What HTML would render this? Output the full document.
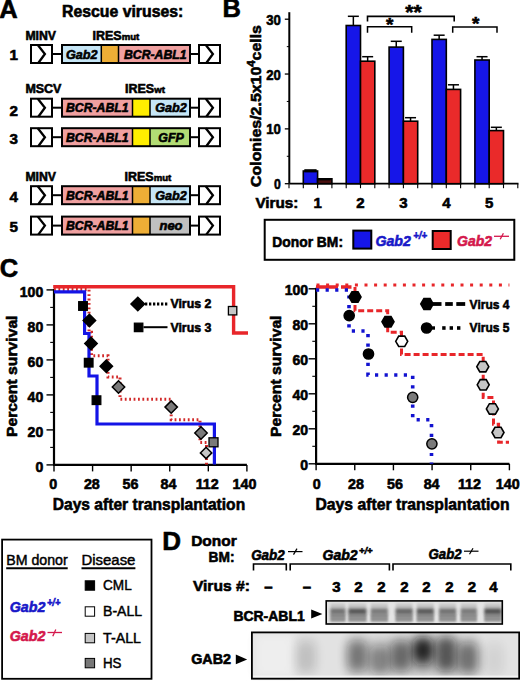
<!DOCTYPE html>
<html><head><meta charset="utf-8"><style>
html,body{margin:0;padding:0;background:#fff;width:520px;height:681px;overflow:hidden}
svg{display:block}
text{font-family:"Liberation Sans",sans-serif}
</style></head><body>
<svg width="520" height="681" viewBox="0 0 520 681">
<rect width="520" height="681" fill="#fff"/>
<text x="-0.8" y="18" font-size="25.5" font-family="Liberation Sans" font-weight="bold" fill="#000" text-anchor="start" stroke="#000" stroke-width="0.6" >A</text>
<text x="62" y="16.9" font-size="15.6" font-family="Liberation Sans" font-weight="bold" fill="#000" text-anchor="start" textLength="121.3" lengthAdjust="spacingAndGlyphs" stroke="#000" stroke-width="0.6" >Rescue viruses:</text>
<text x="9.6" y="59.6" font-size="15.2" font-family="Liberation Sans" font-weight="bold" fill="#000" text-anchor="start" stroke="#000" stroke-width="0.6" >1</text>
<rect x="31" y="45" width="21" height="18" fill="#fff" stroke="#000" stroke-width="2"/>
<polyline points="37.8,45 44.9,54 38.3,63" fill="none" stroke="#000" stroke-width="2.3"/>
<rect x="199" y="45" width="21" height="18" fill="#fff" stroke="#000" stroke-width="2"/>
<polyline points="205.8,45 212.9,54 206.3,63" fill="none" stroke="#000" stroke-width="2.3"/>
<line x1="53" y1="54" x2="61" y2="54" stroke="#000" stroke-width="2"/>
<line x1="191" y1="54" x2="198" y2="54" stroke="#000" stroke-width="2"/>
<rect x="61" y="45" width="40.3" height="18" fill="#c6e6f6"/>
<rect x="101.3" y="45" width="17.200000000000003" height="18" fill="#eeae36"/>
<rect x="118.5" y="45" width="72.5" height="18" fill="#f0a0a0"/>
<line x1="101.3" y1="45" x2="101.3" y2="63" stroke="#000" stroke-width="1.5"/>
<line x1="118.5" y1="45" x2="118.5" y2="63" stroke="#000" stroke-width="1.5"/>
<rect x="62" y="45" width="128" height="18" fill="none" stroke="#000" stroke-width="2"/>
<text x="81.65" y="58.5" font-size="12.6" font-family="Liberation Sans" font-weight="bold" font-style="italic" fill="#000" text-anchor="middle" textLength="31.5" lengthAdjust="spacingAndGlyphs" stroke="#000" stroke-width="0.6" >Gab2</text>
<text x="155.25" y="58.5" font-size="12.6" font-family="Liberation Sans" font-weight="bold" font-style="italic" fill="#000" text-anchor="middle" textLength="62.5" lengthAdjust="spacingAndGlyphs" stroke="#000" stroke-width="0.6" >BCR-ABL1</text>
<text x="9.6" y="115.6" font-size="15.2" font-family="Liberation Sans" font-weight="bold" fill="#000" text-anchor="start" stroke="#000" stroke-width="0.6" >2</text>
<rect x="31" y="98.7" width="21" height="18" fill="#fff" stroke="#000" stroke-width="2"/>
<polyline points="37.8,98.7 44.9,107.7 38.3,116.7" fill="none" stroke="#000" stroke-width="2.3"/>
<rect x="199" y="98.7" width="21" height="18" fill="#fff" stroke="#000" stroke-width="2"/>
<polyline points="205.8,98.7 212.9,107.7 206.3,116.7" fill="none" stroke="#000" stroke-width="2.3"/>
<line x1="53" y1="107.7" x2="61" y2="107.7" stroke="#000" stroke-width="2"/>
<line x1="191" y1="107.7" x2="198" y2="107.7" stroke="#000" stroke-width="2"/>
<rect x="61" y="98.7" width="71.5" height="18" fill="#f0a0a0"/>
<rect x="132.5" y="98.7" width="17.5" height="18" fill="#ffee00"/>
<rect x="150" y="98.7" width="41" height="18" fill="#c6e6f6"/>
<line x1="132.5" y1="98.7" x2="132.5" y2="116.7" stroke="#000" stroke-width="1.5"/>
<line x1="150" y1="98.7" x2="150" y2="116.7" stroke="#000" stroke-width="1.5"/>
<rect x="62" y="98.7" width="128" height="18" fill="none" stroke="#000" stroke-width="2"/>
<text x="97.25" y="112.2" font-size="12.6" font-family="Liberation Sans" font-weight="bold" font-style="italic" fill="#000" text-anchor="middle" textLength="62.5" lengthAdjust="spacingAndGlyphs" stroke="#000" stroke-width="0.6" >BCR-ABL1</text>
<text x="171.0" y="112.2" font-size="12.6" font-family="Liberation Sans" font-weight="bold" font-style="italic" fill="#000" text-anchor="middle" textLength="31.5" lengthAdjust="spacingAndGlyphs" stroke="#000" stroke-width="0.6" >Gab2</text>
<text x="9.6" y="144.2" font-size="15.2" font-family="Liberation Sans" font-weight="bold" fill="#000" text-anchor="start" stroke="#000" stroke-width="0.6" >3</text>
<rect x="31" y="128.2" width="21" height="18" fill="#fff" stroke="#000" stroke-width="2"/>
<polyline points="37.8,128.2 44.9,137.2 38.3,146.2" fill="none" stroke="#000" stroke-width="2.3"/>
<rect x="199" y="128.2" width="21" height="18" fill="#fff" stroke="#000" stroke-width="2"/>
<polyline points="205.8,128.2 212.9,137.2 206.3,146.2" fill="none" stroke="#000" stroke-width="2.3"/>
<line x1="53" y1="137.2" x2="61" y2="137.2" stroke="#000" stroke-width="2"/>
<line x1="191" y1="137.2" x2="198" y2="137.2" stroke="#000" stroke-width="2"/>
<rect x="61" y="128.2" width="71.5" height="18" fill="#f0a0a0"/>
<rect x="132.5" y="128.2" width="17.5" height="18" fill="#ffee00"/>
<rect x="150" y="128.2" width="41" height="18" fill="#b2dc74"/>
<line x1="132.5" y1="128.2" x2="132.5" y2="146.2" stroke="#000" stroke-width="1.5"/>
<line x1="150" y1="128.2" x2="150" y2="146.2" stroke="#000" stroke-width="1.5"/>
<rect x="62" y="128.2" width="128" height="18" fill="none" stroke="#000" stroke-width="2"/>
<text x="97.25" y="141.7" font-size="12.6" font-family="Liberation Sans" font-weight="bold" font-style="italic" fill="#000" text-anchor="middle" textLength="62.5" lengthAdjust="spacingAndGlyphs" stroke="#000" stroke-width="0.6" >BCR-ABL1</text>
<text x="171.0" y="141.7" font-size="12.6" font-family="Liberation Sans" font-weight="bold" font-style="italic" fill="#000" text-anchor="middle" textLength="25.5" lengthAdjust="spacingAndGlyphs" stroke="#000" stroke-width="0.6" >GFP</text>
<text x="9.6" y="201.9" font-size="15.2" font-family="Liberation Sans" font-weight="bold" fill="#000" text-anchor="start" stroke="#000" stroke-width="0.6" >4</text>
<rect x="31" y="186.2" width="21" height="18" fill="#fff" stroke="#000" stroke-width="2"/>
<polyline points="37.8,186.2 44.9,195.2 38.3,204.2" fill="none" stroke="#000" stroke-width="2.3"/>
<rect x="199" y="186.2" width="21" height="18" fill="#fff" stroke="#000" stroke-width="2"/>
<polyline points="205.8,186.2 212.9,195.2 206.3,204.2" fill="none" stroke="#000" stroke-width="2.3"/>
<line x1="53" y1="195.2" x2="61" y2="195.2" stroke="#000" stroke-width="2"/>
<line x1="191" y1="195.2" x2="198" y2="195.2" stroke="#000" stroke-width="2"/>
<rect x="61" y="186.2" width="71.5" height="18" fill="#f0a0a0"/>
<rect x="132.5" y="186.2" width="17.5" height="18" fill="#eeae36"/>
<rect x="150" y="186.2" width="41" height="18" fill="#c6e6f6"/>
<line x1="132.5" y1="186.2" x2="132.5" y2="204.2" stroke="#000" stroke-width="1.5"/>
<line x1="150" y1="186.2" x2="150" y2="204.2" stroke="#000" stroke-width="1.5"/>
<rect x="62" y="186.2" width="128" height="18" fill="none" stroke="#000" stroke-width="2"/>
<text x="97.25" y="199.7" font-size="12.6" font-family="Liberation Sans" font-weight="bold" font-style="italic" fill="#000" text-anchor="middle" textLength="62.5" lengthAdjust="spacingAndGlyphs" stroke="#000" stroke-width="0.6" >BCR-ABL1</text>
<text x="171.0" y="199.7" font-size="12.6" font-family="Liberation Sans" font-weight="bold" font-style="italic" fill="#000" text-anchor="middle" textLength="31.5" lengthAdjust="spacingAndGlyphs" stroke="#000" stroke-width="0.6" >Gab2</text>
<text x="9.6" y="231.9" font-size="15.2" font-family="Liberation Sans" font-weight="bold" fill="#000" text-anchor="start" stroke="#000" stroke-width="0.6" >5</text>
<rect x="31" y="216.6" width="21" height="18" fill="#fff" stroke="#000" stroke-width="2"/>
<polyline points="37.8,216.6 44.9,225.6 38.3,234.6" fill="none" stroke="#000" stroke-width="2.3"/>
<rect x="199" y="216.6" width="21" height="18" fill="#fff" stroke="#000" stroke-width="2"/>
<polyline points="205.8,216.6 212.9,225.6 206.3,234.6" fill="none" stroke="#000" stroke-width="2.3"/>
<line x1="53" y1="225.6" x2="61" y2="225.6" stroke="#000" stroke-width="2"/>
<line x1="191" y1="225.6" x2="198" y2="225.6" stroke="#000" stroke-width="2"/>
<rect x="61" y="216.6" width="71.5" height="18" fill="#f0a0a0"/>
<rect x="132.5" y="216.6" width="17.5" height="18" fill="#eeae36"/>
<rect x="150" y="216.6" width="41" height="18" fill="#c0c0c0"/>
<line x1="132.5" y1="216.6" x2="132.5" y2="234.6" stroke="#000" stroke-width="1.5"/>
<line x1="150" y1="216.6" x2="150" y2="234.6" stroke="#000" stroke-width="1.5"/>
<rect x="62" y="216.6" width="128" height="18" fill="none" stroke="#000" stroke-width="2"/>
<text x="97.25" y="230.1" font-size="12.6" font-family="Liberation Sans" font-weight="bold" font-style="italic" fill="#000" text-anchor="middle" textLength="62.5" lengthAdjust="spacingAndGlyphs" stroke="#000" stroke-width="0.6" >BCR-ABL1</text>
<text x="171.0" y="230.1" font-size="12.6" font-family="Liberation Sans" font-weight="bold" font-style="italic" fill="#000" text-anchor="middle" textLength="23" lengthAdjust="spacingAndGlyphs" stroke="#000" stroke-width="0.6" >neo</text>
<text x="25.4" y="39.7" font-size="12.5" font-family="Liberation Sans" font-weight="bold" fill="#000" text-anchor="start" textLength="30.6" lengthAdjust="spacingAndGlyphs" stroke="#000" stroke-width="0.6" >MINV</text>
<text x="25.4" y="93" font-size="12.5" font-family="Liberation Sans" font-weight="bold" fill="#000" text-anchor="start" textLength="36" lengthAdjust="spacingAndGlyphs" stroke="#000" stroke-width="0.6" >MSCV</text>
<text x="25.4" y="180.7" font-size="12.5" font-family="Liberation Sans" font-weight="bold" fill="#000" text-anchor="start" textLength="30.6" lengthAdjust="spacingAndGlyphs" stroke="#000" stroke-width="0.6" >MINV</text>
<text x="92.5" y="40" font-size="12.5" font-family="Liberation Sans" font-weight="bold" stroke="#000" stroke-width="0.6">IRES<tspan font-size="9.6">mut</tspan></text>
<text x="125" y="93" font-size="12.5" font-family="Liberation Sans" font-weight="bold" stroke="#000" stroke-width="0.6">IRES<tspan font-size="9.6">wt</tspan></text>
<text x="124.5" y="180.5" font-size="12.5" font-family="Liberation Sans" font-weight="bold" stroke="#000" stroke-width="0.6">IRES<tspan font-size="9.6">mut</tspan></text>
<text x="222.6" y="17" font-size="25.5" font-family="Liberation Sans" font-weight="bold" fill="#000" text-anchor="start" stroke="#000" stroke-width="0.6" >B</text>
<line x1="289.3" y1="12.2" x2="289.3" y2="183.7" stroke="#000" stroke-width="2"/>
<line x1="284.8" y1="183.7" x2="289.3" y2="183.7" stroke="#000" stroke-width="1.3"/>
<text x="274.09999999999997" y="189.29999999999998" font-size="15" font-family="Liberation Sans" font-weight="bold" fill="#000" text-anchor="start" textLength="6.8" lengthAdjust="spacingAndGlyphs" stroke="#000" stroke-width="0.6" >0</text>
<line x1="284.8" y1="128.87" x2="289.3" y2="128.87" stroke="#000" stroke-width="1.3"/>
<text x="266.29999999999995" y="134.47" font-size="15" font-family="Liberation Sans" font-weight="bold" fill="#000" text-anchor="start" textLength="14.6" lengthAdjust="spacingAndGlyphs" stroke="#000" stroke-width="0.6" >10</text>
<line x1="284.8" y1="74.03999999999999" x2="289.3" y2="74.03999999999999" stroke="#000" stroke-width="1.3"/>
<text x="266.29999999999995" y="79.63999999999999" font-size="15" font-family="Liberation Sans" font-weight="bold" fill="#000" text-anchor="start" textLength="14.6" lengthAdjust="spacingAndGlyphs" stroke="#000" stroke-width="0.6" >20</text>
<line x1="284.8" y1="19.210000000000008" x2="289.3" y2="19.210000000000008" stroke="#000" stroke-width="1.3"/>
<text x="266.29999999999995" y="24.81000000000001" font-size="15" font-family="Liberation Sans" font-weight="bold" fill="#000" text-anchor="start" textLength="14.6" lengthAdjust="spacingAndGlyphs" stroke="#000" stroke-width="0.6" >30</text>
<line x1="286.8" y1="156.285" x2="289.3" y2="156.285" stroke="#000" stroke-width="1"/>
<line x1="286.8" y1="101.455" x2="289.3" y2="101.455" stroke="#000" stroke-width="1"/>
<line x1="286.8" y1="46.625" x2="289.3" y2="46.625" stroke="#000" stroke-width="1"/>
<line x1="289.3" y1="183.7" x2="518.5" y2="183.7" stroke="#000" stroke-width="1.8"/>
<line x1="289.0" y1="183.7" x2="289.0" y2="188.2" stroke="#000" stroke-width="1.1"/>
<line x1="303.3" y1="183.7" x2="303.3" y2="188.2" stroke="#000" stroke-width="1.1"/>
<line x1="317.6" y1="183.7" x2="317.6" y2="188.2" stroke="#000" stroke-width="1.1"/>
<line x1="331.9" y1="183.7" x2="331.9" y2="188.2" stroke="#000" stroke-width="1.1"/>
<line x1="346.2" y1="183.7" x2="346.2" y2="188.2" stroke="#000" stroke-width="1.1"/>
<line x1="360.5" y1="183.7" x2="360.5" y2="188.2" stroke="#000" stroke-width="1.1"/>
<line x1="374.8" y1="183.7" x2="374.8" y2="188.2" stroke="#000" stroke-width="1.1"/>
<line x1="389.1" y1="183.7" x2="389.1" y2="188.2" stroke="#000" stroke-width="1.1"/>
<line x1="403.4" y1="183.7" x2="403.4" y2="188.2" stroke="#000" stroke-width="1.1"/>
<line x1="417.70000000000005" y1="183.7" x2="417.70000000000005" y2="188.2" stroke="#000" stroke-width="1.1"/>
<line x1="432.0" y1="183.7" x2="432.0" y2="188.2" stroke="#000" stroke-width="1.1"/>
<line x1="446.3" y1="183.7" x2="446.3" y2="188.2" stroke="#000" stroke-width="1.1"/>
<line x1="460.6" y1="183.7" x2="460.6" y2="188.2" stroke="#000" stroke-width="1.1"/>
<line x1="474.9" y1="183.7" x2="474.9" y2="188.2" stroke="#000" stroke-width="1.1"/>
<line x1="489.20000000000005" y1="183.7" x2="489.20000000000005" y2="188.2" stroke="#000" stroke-width="1.1"/>
<line x1="503.5" y1="183.7" x2="503.5" y2="188.2" stroke="#000" stroke-width="1.1"/>
<line x1="517.8" y1="183.7" x2="517.8" y2="188.2" stroke="#000" stroke-width="1.1"/>
<rect x="303.3" y="171" width="14.3" height="12.699999999999989" fill="#1616e8" stroke="#000" stroke-width="1.6"/>
<rect x="304.3" y="169.2" width="12.3" height="3.2" fill="#000"/>
<rect x="317.6" y="178.8" width="14.3" height="4.899999999999977" fill="#4a1010" stroke="#000" stroke-width="1.6"/>
<rect x="317.6" y="178.2" width="13" height="2.2" fill="#000"/>
<text x="317.6" y="208" font-size="15" font-family="Liberation Sans" font-weight="bold" fill="#000" text-anchor="middle" stroke="#000" stroke-width="0.6" >1</text>
<line x1="353.34999999999997" y1="16.3" x2="353.34999999999997" y2="25.5" stroke="#000" stroke-width="1.5"/>
<line x1="347.84999999999997" y1="16.3" x2="358.84999999999997" y2="16.3" stroke="#000" stroke-width="1.5"/>
<rect x="346.2" y="25.5" width="14.3" height="158.2" fill="#1616e8" stroke="#000" stroke-width="1.6"/>
<line x1="367.65" y1="56.7" x2="367.65" y2="61.2" stroke="#000" stroke-width="1.5"/>
<line x1="362.15" y1="56.7" x2="373.15" y2="56.7" stroke="#000" stroke-width="1.5"/>
<rect x="360.5" y="61.2" width="14.3" height="122.49999999999999" fill="#ea2a2a" stroke="#000" stroke-width="1.6"/>
<text x="360.5" y="208" font-size="15" font-family="Liberation Sans" font-weight="bold" fill="#000" text-anchor="middle" stroke="#000" stroke-width="0.6" >2</text>
<line x1="396.25" y1="41.3" x2="396.25" y2="47.1" stroke="#000" stroke-width="1.5"/>
<line x1="390.75" y1="41.3" x2="401.75" y2="41.3" stroke="#000" stroke-width="1.5"/>
<rect x="389.1" y="47.1" width="14.3" height="136.6" fill="#1616e8" stroke="#000" stroke-width="1.6"/>
<line x1="410.55" y1="117.7" x2="410.55" y2="121.2" stroke="#000" stroke-width="1.5"/>
<line x1="405.05" y1="117.7" x2="416.05" y2="117.7" stroke="#000" stroke-width="1.5"/>
<rect x="403.40000000000003" y="121.2" width="14.3" height="62.499999999999986" fill="#ea2a2a" stroke="#000" stroke-width="1.6"/>
<text x="403.40000000000003" y="208" font-size="15" font-family="Liberation Sans" font-weight="bold" fill="#000" text-anchor="middle" stroke="#000" stroke-width="0.6" >3</text>
<line x1="439.15" y1="35.2" x2="439.15" y2="39.4" stroke="#000" stroke-width="1.5"/>
<line x1="433.65" y1="35.2" x2="444.65" y2="35.2" stroke="#000" stroke-width="1.5"/>
<rect x="432.0" y="39.4" width="14.3" height="144.29999999999998" fill="#1616e8" stroke="#000" stroke-width="1.6"/>
<line x1="453.45" y1="84.8" x2="453.45" y2="89.4" stroke="#000" stroke-width="1.5"/>
<line x1="447.95" y1="84.8" x2="458.95" y2="84.8" stroke="#000" stroke-width="1.5"/>
<rect x="446.3" y="89.4" width="14.3" height="94.29999999999998" fill="#ea2a2a" stroke="#000" stroke-width="1.6"/>
<text x="446.3" y="208" font-size="15" font-family="Liberation Sans" font-weight="bold" fill="#000" text-anchor="middle" stroke="#000" stroke-width="0.6" >4</text>
<line x1="482.04999999999995" y1="56.7" x2="482.04999999999995" y2="60" stroke="#000" stroke-width="1.5"/>
<line x1="476.54999999999995" y1="56.7" x2="487.54999999999995" y2="56.7" stroke="#000" stroke-width="1.5"/>
<rect x="474.9" y="60" width="14.3" height="123.69999999999999" fill="#1616e8" stroke="#000" stroke-width="1.6"/>
<line x1="496.34999999999997" y1="127.3" x2="496.34999999999997" y2="130.6" stroke="#000" stroke-width="1.5"/>
<line x1="490.84999999999997" y1="127.3" x2="501.84999999999997" y2="127.3" stroke="#000" stroke-width="1.5"/>
<rect x="489.2" y="130.6" width="14.3" height="53.099999999999994" fill="#ea2a2a" stroke="#000" stroke-width="1.6"/>
<text x="489.2" y="208" font-size="15" font-family="Liberation Sans" font-weight="bold" fill="#000" text-anchor="middle" stroke="#000" stroke-width="0.6" >5</text>
<polyline points="367.5,21.5 367.5,16.4 454.2,16.4 454.2,21.5" fill="none" stroke="#000" stroke-width="1.6"/>
<polyline points="367.5,32.7 367.5,26.8 411.7,26.8 411.7,32.7" fill="none" stroke="#000" stroke-width="1.5"/>
<polyline points="452.7,32.7 452.7,27 497,27 497,32.7" fill="none" stroke="#000" stroke-width="1.5"/>
<text x="389.6" y="30.5" font-size="19" font-family="Liberation Sans" font-weight="bold" fill="#000" text-anchor="middle" stroke="#000" stroke-width="0.6" >*</text>
<text x="475.8" y="30" font-size="19" font-family="Liberation Sans" font-weight="bold" fill="#000" text-anchor="middle" stroke="#000" stroke-width="0.6" >*</text>
<text x="413.4" y="19.2" font-size="21" font-family="Liberation Sans" font-weight="bold" fill="#000" text-anchor="middle" stroke="#000" stroke-width="0.6" >**</text>
<text transform="translate(260.8,187) rotate(-90)" font-size="15.5" font-family="Liberation Sans" font-weight="bold" stroke="#000" stroke-width="0.6" textLength="162" lengthAdjust="spacingAndGlyphs">Colonies/2.5x10<tspan font-size="11" dy="-5.5">4</tspan><tspan dy="5.5">cells</tspan></text>
<text x="255.4" y="208" font-size="15" font-family="Liberation Sans" font-weight="bold" fill="#000" text-anchor="start" textLength="43" lengthAdjust="spacingAndGlyphs" stroke="#000" stroke-width="0.6" >Virus:</text>
<rect x="264.7" y="219.8" width="249.6" height="40" fill="#fff" stroke="#000" stroke-width="2"/>
<text x="272.3" y="246.5" font-size="14.5" font-family="Liberation Sans" font-weight="bold" fill="#000" text-anchor="start" textLength="70.7" lengthAdjust="spacingAndGlyphs" stroke="#000" stroke-width="0.6" >Donor BM:</text>
<rect x="353.3" y="230.6" width="18" height="18" fill="#1616e8" stroke="#000" stroke-width="2"/>
<rect x="432.7" y="231" width="18" height="18" fill="#ea2a2a" stroke="#000" stroke-width="2"/>
<text x="375.4" y="245.8" font-size="15" font-family="Liberation Sans" font-weight="bold" font-style="italic" fill="#1818c8" text-anchor="start" textLength="35.4" lengthAdjust="spacingAndGlyphs" stroke="#1818c8" stroke-width="0.6" >Gab2</text>
<text x="413.3" y="239.4" font-size="10" font-family="Liberation Sans" font-weight="bold" font-style="italic" fill="#1818c8" text-anchor="start" textLength="13.7" lengthAdjust="spacingAndGlyphs" stroke="#1818c8" stroke-width="0.6" >+/+</text>
<text x="457" y="245.8" font-size="15" font-family="Liberation Sans" font-weight="bold" font-style="italic" fill="#d4184c" text-anchor="start" textLength="35" lengthAdjust="spacingAndGlyphs" stroke="#d4184c" stroke-width="0.6" >Gab2</text>
<line x1="494" y1="236.3" x2="509" y2="236.3" stroke="#d4184c" stroke-width="1.3"/>
<line x1="503.4" y1="233.2" x2="500.2" y2="239.3" stroke="#d4184c" stroke-width="1.3"/>
<text x="-0.3" y="277" font-size="25.5" font-family="Liberation Sans" font-weight="bold" fill="#000" text-anchor="start" stroke="#000" stroke-width="0.6" >C</text>
<line x1="54.0" y1="288.9" x2="54.0" y2="464.9" stroke="#000" stroke-width="2.2"/>
<line x1="46.5" y1="464.9" x2="54.0" y2="464.9" stroke="#000" stroke-width="1.4"/>
<text x="43.2" y="471.5" font-size="14" font-family="Liberation Sans" font-weight="bold" fill="#000" text-anchor="end" stroke="#000" stroke-width="0.6" >0</text>
<line x1="50.2" y1="447.4" x2="54.0" y2="447.4" stroke="#000" stroke-width="1.1"/>
<line x1="46.5" y1="429.9" x2="54.0" y2="429.9" stroke="#000" stroke-width="1.4"/>
<text x="43.2" y="436.5" font-size="14" font-family="Liberation Sans" font-weight="bold" fill="#000" text-anchor="end" stroke="#000" stroke-width="0.6" >20</text>
<line x1="50.2" y1="412.4" x2="54.0" y2="412.4" stroke="#000" stroke-width="1.1"/>
<line x1="46.5" y1="394.9" x2="54.0" y2="394.9" stroke="#000" stroke-width="1.4"/>
<text x="43.2" y="401.5" font-size="14" font-family="Liberation Sans" font-weight="bold" fill="#000" text-anchor="end" stroke="#000" stroke-width="0.6" >40</text>
<line x1="50.2" y1="377.4" x2="54.0" y2="377.4" stroke="#000" stroke-width="1.1"/>
<line x1="46.5" y1="359.9" x2="54.0" y2="359.9" stroke="#000" stroke-width="1.4"/>
<text x="43.2" y="366.5" font-size="14" font-family="Liberation Sans" font-weight="bold" fill="#000" text-anchor="end" stroke="#000" stroke-width="0.6" >60</text>
<line x1="50.2" y1="342.4" x2="54.0" y2="342.4" stroke="#000" stroke-width="1.1"/>
<line x1="46.5" y1="324.9" x2="54.0" y2="324.9" stroke="#000" stroke-width="1.4"/>
<text x="43.2" y="331.5" font-size="14" font-family="Liberation Sans" font-weight="bold" fill="#000" text-anchor="end" stroke="#000" stroke-width="0.6" >80</text>
<line x1="50.2" y1="307.4" x2="54.0" y2="307.4" stroke="#000" stroke-width="1.1"/>
<line x1="46.5" y1="289.9" x2="54.0" y2="289.9" stroke="#000" stroke-width="1.4"/>
<text x="43.2" y="296.5" font-size="14" font-family="Liberation Sans" font-weight="bold" fill="#000" text-anchor="end" stroke="#000" stroke-width="0.6" >100</text>
<line x1="53.0" y1="464.9" x2="246.9" y2="464.9" stroke="#000" stroke-width="2.2"/>
<line x1="54.0" y1="464.9" x2="54.0" y2="471.4" stroke="#000" stroke-width="1.4"/>
<text x="53.3" y="488.8" font-size="14.3" font-family="Liberation Sans" font-weight="bold" fill="#000" text-anchor="middle" stroke="#000" stroke-width="0.6" >0</text>
<line x1="92.58" y1="464.9" x2="92.58" y2="471.4" stroke="#000" stroke-width="1.4"/>
<text x="91.88" y="488.8" font-size="14.3" font-family="Liberation Sans" font-weight="bold" fill="#000" text-anchor="middle" stroke="#000" stroke-width="0.6" >28</text>
<line x1="131.16" y1="464.9" x2="131.16" y2="471.4" stroke="#000" stroke-width="1.4"/>
<text x="130.56" y="488.8" font-size="14.3" font-family="Liberation Sans" font-weight="bold" fill="#000" text-anchor="middle" stroke="#000" stroke-width="0.6" >56</text>
<line x1="169.74" y1="464.9" x2="169.74" y2="471.4" stroke="#000" stroke-width="1.4"/>
<text x="168.54000000000002" y="488.8" font-size="14.3" font-family="Liberation Sans" font-weight="bold" fill="#000" text-anchor="middle" stroke="#000" stroke-width="0.6" >84</text>
<line x1="208.32" y1="464.9" x2="208.32" y2="471.4" stroke="#000" stroke-width="1.4"/>
<text x="207.22" y="488.8" font-size="14.3" font-family="Liberation Sans" font-weight="bold" fill="#000" text-anchor="middle" stroke="#000" stroke-width="0.6" >112</text>
<line x1="246.9" y1="464.9" x2="246.9" y2="471.4" stroke="#000" stroke-width="1.4"/>
<text x="244.5" y="488.8" font-size="14.3" font-family="Liberation Sans" font-weight="bold" fill="#000" text-anchor="middle" stroke="#000" stroke-width="0.6" >140</text>
<text transform="translate(17.2,437) rotate(-90)" font-size="15.3" font-family="Liberation Sans" font-weight="bold" stroke="#000" stroke-width="0.6" textLength="121.5" lengthAdjust="spacingAndGlyphs">Percent survival</text>
<text x="52.7" y="509.8" font-size="16.6" font-family="Liberation Sans" font-weight="bold" fill="#000" text-anchor="start" textLength="192.5" lengthAdjust="spacingAndGlyphs" stroke="#000" stroke-width="0.6" >Days after transplantation</text>
<line x1="316.1" y1="287.8" x2="316.1" y2="463.8" stroke="#000" stroke-width="2.2"/>
<line x1="308.6" y1="463.8" x2="316.1" y2="463.8" stroke="#000" stroke-width="1.4"/>
<text x="308" y="470.40000000000003" font-size="14" font-family="Liberation Sans" font-weight="bold" fill="#000" text-anchor="end" stroke="#000" stroke-width="0.6" >0</text>
<line x1="312.3" y1="446.3" x2="316.1" y2="446.3" stroke="#000" stroke-width="1.1"/>
<line x1="308.6" y1="428.8" x2="316.1" y2="428.8" stroke="#000" stroke-width="1.4"/>
<text x="308" y="435.40000000000003" font-size="14" font-family="Liberation Sans" font-weight="bold" fill="#000" text-anchor="end" stroke="#000" stroke-width="0.6" >20</text>
<line x1="312.3" y1="411.3" x2="316.1" y2="411.3" stroke="#000" stroke-width="1.1"/>
<line x1="308.6" y1="393.8" x2="316.1" y2="393.8" stroke="#000" stroke-width="1.4"/>
<text x="308" y="400.40000000000003" font-size="14" font-family="Liberation Sans" font-weight="bold" fill="#000" text-anchor="end" stroke="#000" stroke-width="0.6" >40</text>
<line x1="312.3" y1="376.3" x2="316.1" y2="376.3" stroke="#000" stroke-width="1.1"/>
<line x1="308.6" y1="358.8" x2="316.1" y2="358.8" stroke="#000" stroke-width="1.4"/>
<text x="308" y="365.40000000000003" font-size="14" font-family="Liberation Sans" font-weight="bold" fill="#000" text-anchor="end" stroke="#000" stroke-width="0.6" >60</text>
<line x1="312.3" y1="341.3" x2="316.1" y2="341.3" stroke="#000" stroke-width="1.1"/>
<line x1="308.6" y1="323.8" x2="316.1" y2="323.8" stroke="#000" stroke-width="1.4"/>
<text x="308" y="330.40000000000003" font-size="14" font-family="Liberation Sans" font-weight="bold" fill="#000" text-anchor="end" stroke="#000" stroke-width="0.6" >80</text>
<line x1="312.3" y1="306.3" x2="316.1" y2="306.3" stroke="#000" stroke-width="1.1"/>
<line x1="308.6" y1="288.8" x2="316.1" y2="288.8" stroke="#000" stroke-width="1.4"/>
<text x="308" y="295.40000000000003" font-size="14" font-family="Liberation Sans" font-weight="bold" fill="#000" text-anchor="end" stroke="#000" stroke-width="0.6" >100</text>
<line x1="315.1" y1="463.8" x2="509.4" y2="463.8" stroke="#000" stroke-width="2.2"/>
<line x1="316.1" y1="463.8" x2="316.1" y2="470.3" stroke="#000" stroke-width="1.4"/>
<text x="316.70000000000005" y="488.8" font-size="14.3" font-family="Liberation Sans" font-weight="bold" fill="#000" text-anchor="middle" stroke="#000" stroke-width="0.6" >0</text>
<line x1="354.76" y1="463.8" x2="354.76" y2="470.3" stroke="#000" stroke-width="1.4"/>
<text x="355.96" y="488.8" font-size="14.3" font-family="Liberation Sans" font-weight="bold" fill="#000" text-anchor="middle" stroke="#000" stroke-width="0.6" >28</text>
<line x1="393.42" y1="463.8" x2="393.42" y2="470.3" stroke="#000" stroke-width="1.4"/>
<text x="395.02000000000004" y="488.8" font-size="14.3" font-family="Liberation Sans" font-weight="bold" fill="#000" text-anchor="middle" stroke="#000" stroke-width="0.6" >56</text>
<line x1="432.08" y1="463.8" x2="432.08" y2="470.3" stroke="#000" stroke-width="1.4"/>
<text x="431.58" y="488.8" font-size="14.3" font-family="Liberation Sans" font-weight="bold" fill="#000" text-anchor="middle" stroke="#000" stroke-width="0.6" >84</text>
<line x1="470.74" y1="463.8" x2="470.74" y2="470.3" stroke="#000" stroke-width="1.4"/>
<text x="469.44" y="488.8" font-size="14.3" font-family="Liberation Sans" font-weight="bold" fill="#000" text-anchor="middle" stroke="#000" stroke-width="0.6" >112</text>
<line x1="509.4" y1="463.8" x2="509.4" y2="470.3" stroke="#000" stroke-width="1.4"/>
<text x="507.79999999999995" y="488.8" font-size="14.3" font-family="Liberation Sans" font-weight="bold" fill="#000" text-anchor="middle" stroke="#000" stroke-width="0.6" >140</text>
<text transform="translate(280.9,437) rotate(-90)" font-size="15.3" font-family="Liberation Sans" font-weight="bold" stroke="#000" stroke-width="0.6" textLength="121.5" lengthAdjust="spacingAndGlyphs">Percent survival</text>
<text x="315.5" y="509.8" font-size="16.6" font-family="Liberation Sans" font-weight="bold" fill="#000" text-anchor="start" textLength="194" lengthAdjust="spacingAndGlyphs" stroke="#000" stroke-width="0.6" >Days after transplantation</text>
<path d="M53.2,286.8 H233.6 V333 H248" fill="none" stroke="#e8262a" stroke-width="3.4"/>
<path d="M54,289.6 H89 V332.2 H91.5 V355.8 H108 V377 H120 V399.2 H171.2 V419.8 H200 V442.5 H206.5 V464.5" fill="none" stroke="#d22a2a" stroke-width="3" stroke-dasharray="1.8 2.6"/>
<path d="M54,291.8 H84.6 V333.5 H89 V376 H97 V424 H214.4 V464.5" fill="none" stroke="#1414e6" stroke-width="3.2"/>
<rect x="78.7" y="301.7" width="8.6" height="8.6" fill="#000" stroke="#000" stroke-width="1.3"/>
<rect x="84.4" y="358.4" width="8.6" height="8.6" fill="#000" stroke="#000" stroke-width="1.3"/>
<rect x="92.2" y="395.9" width="8.6" height="8.6" fill="#000" stroke="#000" stroke-width="1.3"/>
<polygon points="89.4,314.2 95.60000000000001,320.4 89.4,326.59999999999997 83.2,320.4" fill="#000" stroke="#000" stroke-width="1.5"/>
<polygon points="91,337.3 97.2,343.5 91,349.7 84.8,343.5" fill="#000" stroke="#000" stroke-width="1.5"/>
<polygon points="106.3,360.1 112.5,366.3 106.3,372.5 100.1,366.3" fill="#000" stroke="#000" stroke-width="1.5"/>
<polygon points="118.5,380.8 124.7,387 118.5,393.2 112.3,387" fill="#7a7a7a" stroke="#000" stroke-width="1.5"/>
<polygon points="171.2,400.90000000000003 177.39999999999998,407.1 171.2,413.3 165.0,407.1" fill="#7a7a7a" stroke="#000" stroke-width="1.5"/>
<polygon points="201,426.8 207.2,433 201,439.2 194.8,433" fill="#7a7a7a" stroke="#000" stroke-width="1.5"/>
<polygon points="206.1,447.2 211.79999999999998,452.9 206.1,458.59999999999997 200.4,452.9" fill="#c6c6c6" stroke="#000" stroke-width="1.5"/>
<rect x="209.0" y="437.8" width="9" height="9" fill="#7a7a7a" stroke="#000" stroke-width="1.3"/>
<rect x="228.4" y="306.5" width="8.4" height="8.4" fill="#c6c6c6" stroke="#000" stroke-width="1.3"/>
<polygon points="137.8,297.2 144.60000000000002,304 137.8,310.8 131.0,304" fill="#000" stroke="#000" stroke-width="1.5"/>
<line x1="145" y1="304" x2="167.5" y2="304" stroke="#000" stroke-width="3.2" stroke-dasharray="2.3 1.7"/>
<rect x="134.4" y="323.2" width="8.4" height="8.4" fill="#000" stroke="#000" stroke-width="1.3"/>
<line x1="143.5" y1="327.2" x2="167.5" y2="327.2" stroke="#000" stroke-width="2"/>
<text x="170.4" y="308.3" font-size="13.4" font-family="Liberation Sans" font-weight="bold" fill="#000" text-anchor="start" textLength="41" lengthAdjust="spacingAndGlyphs" stroke="#000" stroke-width="0.6" >Virus 2</text>
<text x="170.4" y="331.5" font-size="13.4" font-family="Liberation Sans" font-weight="bold" fill="#000" text-anchor="start" textLength="41" lengthAdjust="spacingAndGlyphs" stroke="#000" stroke-width="0.6" >Virus 3</text>
<path d="M316.5,285 H509.4" fill="none" stroke="#e8262a" stroke-width="3" stroke-dasharray="3 6.6"/>
<path d="M316,287 H338 M341,287 H351.5" fill="none" stroke="#e8262a" stroke-width="3.4"/>
<path d="M355,287 V310.8 H387.7 V332.3 H401.5 V354.4 H483.2 V397.6 H493.5 V424.3 H498.6 V442.2 H509" fill="none" stroke="#e8262a" stroke-width="3" stroke-dasharray="6 3"/>
<path d="M316,290 H349 V331 H368 V375 H412.7 V419.8 H431.5 V463.8" fill="none" stroke="#1212d0" stroke-width="3.6" stroke-dasharray="3.2 6.4"/>
<polygon points="349.0,297 352.0,291.804 358.0,291.804 361.0,297 358.0,302.196 352.0,302.196" fill="#000" stroke="#000" stroke-width="1.6"/>
<polygon points="382.0,321.7 385.0,316.50399999999996 391.0,316.50399999999996 394.0,321.7 391.0,326.896 385.0,326.896" fill="#000" stroke="#000" stroke-width="1.6"/>
<polygon points="395.7,341.3 398.7,336.104 404.7,336.104 407.7,341.3 404.7,346.49600000000004 398.7,346.49600000000004" fill="#fff" stroke="#000" stroke-width="1.6"/>
<polygon points="476.8,366.7 479.8,361.50399999999996 485.8,361.50399999999996 488.8,366.7 485.8,371.896 479.8,371.896" fill="#c6c6c6" stroke="#000" stroke-width="1.6"/>
<polygon points="477.2,384.8 480.2,379.604 486.2,379.604 489.2,384.8 486.2,389.99600000000004 480.2,389.99600000000004" fill="#c6c6c6" stroke="#000" stroke-width="1.6"/>
<polygon points="486.4,408.9 489.4,403.70399999999995 495.4,403.70399999999995 498.4,408.9 495.4,414.096 489.4,414.096" fill="#c6c6c6" stroke="#000" stroke-width="1.6"/>
<polygon points="492.0,432.5 495.0,427.304 501.0,427.304 504.0,432.5 501.0,437.696 495.0,437.696" fill="#c6c6c6" stroke="#000" stroke-width="1.6"/>
<circle cx="349.2" cy="315.6" r="5.1" fill="#000" stroke="#000" stroke-width="1.5"/>
<circle cx="368.5" cy="354" r="5.1" fill="#000" stroke="#000" stroke-width="1.5"/>
<circle cx="412.7" cy="397.3" r="5.1" fill="#7a7a7a" stroke="#000" stroke-width="1.5"/>
<circle cx="431.9" cy="443.8" r="5.1" fill="#7a7a7a" stroke="#000" stroke-width="1.5"/>
<polygon points="420.8,304 423.9,298.6308 430.1,298.6308 433.2,304 430.1,309.3692 423.9,309.3692" fill="#000" stroke="#000" stroke-width="1.6"/>
<rect x="433" y="302.1" width="8.5" height="3.8" fill="#000"/>
<rect x="445.2" y="302.1" width="7.600000000000023" height="3.8" fill="#000"/>
<rect x="456.3" y="302.1" width="8.899999999999977" height="3.8" fill="#000"/>
<circle cx="426.6" cy="328" r="5.1" fill="#000" stroke="#000" stroke-width="1.5"/>
<rect x="430" y="326.3" width="5" height="3.4" fill="#000"/>
<rect x="442.2" y="326.2" width="3.4" height="3.6" fill="#000"/>
<rect x="449.6" y="326.2" width="3.4" height="3.6" fill="#000"/>
<rect x="457" y="326.2" width="3.4" height="3.6" fill="#000"/>
<text x="469.6" y="308.8" font-size="13.4" font-family="Liberation Sans" font-weight="bold" fill="#000" text-anchor="start" textLength="39.8" lengthAdjust="spacingAndGlyphs" stroke="#000" stroke-width="0.6" >Virus 4</text>
<text x="469.6" y="332" font-size="13.4" font-family="Liberation Sans" font-weight="bold" fill="#000" text-anchor="start" textLength="39.8" lengthAdjust="spacingAndGlyphs" stroke="#000" stroke-width="0.6" >Virus 5</text>
<rect x="2.1" y="539.6" width="149.4" height="139.2" fill="#fff" stroke="#000" stroke-width="1.8"/>
<text x="6.2" y="564.6" font-size="14" font-family="Liberation Sans" fill="#000" text-anchor="start" textLength="61.5" lengthAdjust="spacingAndGlyphs" stroke="#000" stroke-width="0.45" >BM donor</text>
<line x1="6.2" y1="568.2" x2="67.7" y2="568.2" stroke="#000" stroke-width="1.9"/>
<text x="81.5" y="564.6" font-size="14" font-family="Liberation Sans" fill="#000" text-anchor="start" textLength="53.9" lengthAdjust="spacingAndGlyphs" stroke="#000" stroke-width="0.45" >Disease</text>
<line x1="81.5" y1="568.2" x2="135.4" y2="568.2" stroke="#000" stroke-width="1.9"/>
<rect x="85.2" y="580.8" width="9.4" height="9.4" fill="#000" stroke="#000" stroke-width="1"/>
<text x="103" y="590.4" font-size="14" font-family="Liberation Sans" fill="#000" text-anchor="start" textLength="28.7" lengthAdjust="spacingAndGlyphs" stroke="#000" stroke-width="0.45" >CML</text>
<rect x="85.2" y="606.8" width="9.4" height="9.4" fill="#fff" stroke="#000" stroke-width="1"/>
<text x="103" y="616.4" font-size="14" font-family="Liberation Sans" fill="#000" text-anchor="start" textLength="39.2" lengthAdjust="spacingAndGlyphs" stroke="#000" stroke-width="0.45" >B-ALL</text>
<rect x="85.2" y="633.4" width="9.4" height="9.4" fill="#c4c4c4" stroke="#000" stroke-width="1"/>
<text x="103" y="643" font-size="14" font-family="Liberation Sans" fill="#000" text-anchor="start" textLength="38" lengthAdjust="spacingAndGlyphs" stroke="#000" stroke-width="0.45" >T-ALL</text>
<rect x="85.2" y="658.4" width="9.4" height="9.4" fill="#777" stroke="#000" stroke-width="1"/>
<text x="103" y="668" font-size="14" font-family="Liberation Sans" fill="#000" text-anchor="start" textLength="18.5" lengthAdjust="spacingAndGlyphs" stroke="#000" stroke-width="0.45" >HS</text>
<text x="9.8" y="612.3" font-size="15" font-family="Liberation Sans" font-weight="bold" font-style="italic" fill="#1818c8" text-anchor="start" textLength="35.5" lengthAdjust="spacingAndGlyphs" stroke="#1818c8" stroke-width="0.6" >Gab2</text>
<text x="46.9" y="605.7" font-size="10" font-family="Liberation Sans" font-weight="bold" font-style="italic" fill="#1818c8" text-anchor="start" textLength="13.5" lengthAdjust="spacingAndGlyphs" stroke="#1818c8" stroke-width="0.6" >+/+</text>
<text x="9.8" y="640.6" font-size="15" font-family="Liberation Sans" font-weight="bold" font-style="italic" fill="#d4184c" text-anchor="start" textLength="35.5" lengthAdjust="spacingAndGlyphs" stroke="#d4184c" stroke-width="0.6" >Gab2</text>
<line x1="47.5" y1="632.5" x2="62" y2="632.5" stroke="#d4184c" stroke-width="1.3"/>
<line x1="55.8" y1="629.6" x2="52.8" y2="636.2" stroke="#d4184c" stroke-width="1.3"/>
<text x="162.2" y="550.3" font-size="26" font-family="Liberation Sans" font-weight="bold" fill="#000" text-anchor="start" stroke="#000" stroke-width="0.6" >D</text>
<text x="191.2" y="546" font-size="15.5" font-family="Liberation Sans" font-weight="bold" fill="#000" text-anchor="start" textLength="45.6" lengthAdjust="spacingAndGlyphs" stroke="#000" stroke-width="0.6" >Donor</text>
<text x="208.5" y="561.5" font-size="15.5" font-family="Liberation Sans" font-weight="bold" fill="#000" text-anchor="start" textLength="26" lengthAdjust="spacingAndGlyphs" stroke="#000" stroke-width="0.6" >BM:</text>
<text x="251.2" y="559.8" font-size="14" font-family="Liberation Sans" font-weight="bold" font-style="italic" fill="#000" text-anchor="start" textLength="33.5" lengthAdjust="spacingAndGlyphs" stroke="#000" stroke-width="0.6" >Gab2</text>
<line x1="288" y1="551.6" x2="302.5" y2="551.6" stroke="#000" stroke-width="1.2"/>
<line x1="297" y1="548.6" x2="293.5" y2="554.6" stroke="#000" stroke-width="1.2"/>
<text x="322.5" y="559.5" font-size="14" font-family="Liberation Sans" font-weight="bold" font-style="italic" fill="#000" text-anchor="start" textLength="35" lengthAdjust="spacingAndGlyphs" stroke="#000" stroke-width="0.6" >Gab2</text>
<text x="359" y="553.5" font-size="9.5" font-family="Liberation Sans" font-weight="bold" font-style="italic" fill="#000" text-anchor="start" textLength="13.5" lengthAdjust="spacingAndGlyphs" stroke="#000" stroke-width="0.6" >+/+</text>
<text x="428.6" y="559" font-size="14" font-family="Liberation Sans" font-weight="bold" font-style="italic" fill="#000" text-anchor="start" textLength="33" lengthAdjust="spacingAndGlyphs" stroke="#000" stroke-width="0.6" >Gab2</text>
<line x1="464" y1="551.2" x2="478.5" y2="551.2" stroke="#000" stroke-width="1.2"/>
<line x1="473" y1="548.2" x2="469.5" y2="554.2" stroke="#000" stroke-width="1.2"/>
<polyline points="253.5,570.6 253.5,564 286.3,564 286.3,570.6" fill="none" stroke="#000" stroke-width="1.6"/>
<polyline points="290.2,570.6 290.2,564 389.4,564 389.4,570.6" fill="none" stroke="#000" stroke-width="1.6"/>
<polyline points="393,570.6 393,564 510.8,564 510.8,570.6" fill="none" stroke="#000" stroke-width="1.6"/>
<text x="192.9" y="591" font-size="15.5" font-family="Liberation Sans" font-weight="bold" fill="#000" text-anchor="start" textLength="57" lengthAdjust="spacingAndGlyphs" stroke="#000" stroke-width="0.6" >Virus #:</text>
<text x="268.5" y="592" font-size="15" font-family="Liberation Sans" font-weight="bold" fill="#000" text-anchor="middle" stroke="#000" stroke-width="0.6" >–</text>
<text x="307" y="592" font-size="15" font-family="Liberation Sans" font-weight="bold" fill="#000" text-anchor="middle" stroke="#000" stroke-width="0.6" >–</text>
<text x="336.5" y="592" font-size="15" font-family="Liberation Sans" font-weight="bold" fill="#000" text-anchor="middle" stroke="#000" stroke-width="0.6" >3</text>
<text x="358.5" y="592" font-size="15" font-family="Liberation Sans" font-weight="bold" fill="#000" text-anchor="middle" stroke="#000" stroke-width="0.6" >2</text>
<text x="381.5" y="592" font-size="15" font-family="Liberation Sans" font-weight="bold" fill="#000" text-anchor="middle" stroke="#000" stroke-width="0.6" >2</text>
<text x="404.5" y="592" font-size="15" font-family="Liberation Sans" font-weight="bold" fill="#000" text-anchor="middle" stroke="#000" stroke-width="0.6" >2</text>
<text x="426.5" y="592" font-size="15" font-family="Liberation Sans" font-weight="bold" fill="#000" text-anchor="middle" stroke="#000" stroke-width="0.6" >2</text>
<text x="449.5" y="592" font-size="15" font-family="Liberation Sans" font-weight="bold" fill="#000" text-anchor="middle" stroke="#000" stroke-width="0.6" >2</text>
<text x="472" y="592" font-size="15" font-family="Liberation Sans" font-weight="bold" fill="#000" text-anchor="middle" stroke="#000" stroke-width="0.6" >2</text>
<text x="493.5" y="592" font-size="15" font-family="Liberation Sans" font-weight="bold" fill="#000" text-anchor="middle" stroke="#000" stroke-width="0.6" >4</text>
<text x="233.4" y="621" font-size="14" font-family="Liberation Sans" font-weight="bold" fill="#000" text-anchor="start" textLength="71.3" lengthAdjust="spacingAndGlyphs" stroke="#000" stroke-width="0.6" >BCR-ABL1</text>
<polygon points="311.2,609.4 322.4,613.9 311.2,618.4" fill="#000"/>
<text x="191.2" y="664.2" font-size="14" font-family="Liberation Sans" font-weight="bold" fill="#000" text-anchor="start" textLength="39.8" lengthAdjust="spacingAndGlyphs" stroke="#000" stroke-width="0.6" >GAB2</text>
<polygon points="235.8,654.6 247.2,659.4 235.8,664.2" fill="#000"/>
<defs><filter id="b1" x="-50%" y="-50%" width="200%" height="200%"><feGaussianBlur stdDeviation="1.1"/></filter><filter id="b15" x="-50%" y="-50%" width="200%" height="200%"><feGaussianBlur stdDeviation="1.6"/></filter><filter id="b4" x="-50%" y="-50%" width="200%" height="200%"><feGaussianBlur stdDeviation="4"/></filter><filter id="b3" x="-50%" y="-50%" width="200%" height="200%"><feGaussianBlur stdDeviation="2.5"/></filter><filter id="b5" x="-50%" y="-50%" width="200%" height="200%"><feGaussianBlur stdDeviation="5.5 5.5"/></filter><clipPath id="c1"><rect x="326.5" y="601.2" width="175.5" height="22.5"/></clipPath><clipPath id="c2"><rect x="252" y="632.5" width="267" height="46"/></clipPath></defs>
<rect x="326.5" y="601.2" width="175.5" height="22.5" fill="#e4e4e4"/>
<g clip-path="url(#c1)">
<rect x="330.4" y="603.5" width="15" height="18" fill="#c8c8c8" filter="url(#b1)"/>
<rect x="330.4" y="614" width="15" height="7.5" fill="#909090" filter="url(#b1)"/>
<rect x="330.4" y="608.6" width="15" height="5.6" fill="#2a2a2a" opacity="0.55" filter="url(#b15)"/>
<rect x="348.4" y="603.5" width="18" height="18" fill="#c8c8c8" filter="url(#b1)"/>
<rect x="348.4" y="614" width="18" height="7.5" fill="#909090" filter="url(#b1)"/>
<rect x="348.4" y="608.6" width="18" height="5.6" fill="#2a2a2a" opacity="0.72" filter="url(#b15)"/>
<rect x="370.8" y="603.5" width="17" height="18" fill="#c8c8c8" filter="url(#b1)"/>
<rect x="370.8" y="614" width="17" height="7.5" fill="#909090" filter="url(#b1)"/>
<rect x="370.8" y="608.6" width="17" height="5.6" fill="#2a2a2a" opacity="0.5" filter="url(#b15)"/>
<rect x="395.6" y="603.5" width="17" height="18" fill="#c8c8c8" filter="url(#b1)"/>
<rect x="395.6" y="614" width="17" height="7.5" fill="#909090" filter="url(#b1)"/>
<rect x="395.6" y="608.6" width="17" height="5.6" fill="#2a2a2a" opacity="0.62" filter="url(#b15)"/>
<rect x="416.8" y="603.5" width="17" height="18" fill="#c8c8c8" filter="url(#b1)"/>
<rect x="416.8" y="614" width="17" height="7.5" fill="#909090" filter="url(#b1)"/>
<rect x="416.8" y="608.6" width="17" height="5.6" fill="#2a2a2a" opacity="0.7" filter="url(#b15)"/>
<rect x="439.1" y="603.5" width="17" height="18" fill="#c8c8c8" filter="url(#b1)"/>
<rect x="439.1" y="614" width="17" height="7.5" fill="#909090" filter="url(#b1)"/>
<rect x="439.1" y="608.6" width="17" height="5.6" fill="#2a2a2a" opacity="0.55" filter="url(#b15)"/>
<rect x="460.8" y="603.5" width="16" height="18" fill="#c8c8c8" filter="url(#b1)"/>
<rect x="460.8" y="614" width="16" height="7.5" fill="#909090" filter="url(#b1)"/>
<rect x="460.8" y="608.6" width="16" height="5.6" fill="#2a2a2a" opacity="0.5" filter="url(#b15)"/>
<rect x="484.4" y="603.5" width="17" height="18" fill="#c8c8c8" filter="url(#b1)"/>
<rect x="484.4" y="614" width="17" height="7.5" fill="#909090" filter="url(#b1)"/>
<rect x="484.4" y="608.6" width="17" height="5.6" fill="#2a2a2a" opacity="0.75" filter="url(#b15)"/>
</g>
<rect x="326.2" y="600.9" width="176.1" height="23.1" fill="none" stroke="#000" stroke-width="1.6"/>
<rect x="252" y="632.5" width="267" height="46" fill="#e2e2e2"/>
<rect x="254" y="634.5" width="40" height="42" fill="#eeeeee" filter="url(#b4)"/>
<g clip-path="url(#c2)">
<rect x="296" y="637" width="20" height="38" fill="#111" opacity="0.030" filter="url(#b4)"/>
<rect x="296" y="642.0" width="20" height="30" rx="7" fill="#111" opacity="0.12" filter="url(#b5)"/>
<rect x="347.5" y="637" width="20" height="38" fill="#111" opacity="0.113" filter="url(#b4)"/>
<rect x="347.5" y="641.0" width="20" height="30" rx="7" fill="#111" opacity="0.45" filter="url(#b5)"/>
<rect x="370" y="637" width="20" height="38" fill="#111" opacity="0.100" filter="url(#b4)"/>
<rect x="370" y="646.0" width="20" height="28" rx="7" fill="#111" opacity="0.4" filter="url(#b5)"/>
<rect x="391" y="637" width="20" height="38" fill="#111" opacity="0.130" filter="url(#b4)"/>
<rect x="391" y="641.0" width="20" height="30" rx="7" fill="#111" opacity="0.52" filter="url(#b5)"/>
<rect x="413" y="637" width="20" height="38" fill="#111" opacity="0.188" filter="url(#b4)"/>
<rect x="413" y="637.0" width="20" height="28" rx="7" fill="#111" opacity="0.75" filter="url(#b5)"/>
<rect x="436" y="637" width="20" height="38" fill="#111" opacity="0.155" filter="url(#b4)"/>
<rect x="436" y="637.0" width="20" height="34" rx="7" fill="#111" opacity="0.62" filter="url(#b5)"/>
<rect x="458" y="637" width="20" height="38" fill="#111" opacity="0.120" filter="url(#b4)"/>
<rect x="458" y="643.0" width="20" height="30" rx="7" fill="#111" opacity="0.48" filter="url(#b5)"/>
<rect x="484" y="637" width="20" height="38" fill="#111" opacity="0.013" filter="url(#b4)"/>
<rect x="484" y="645.0" width="20" height="30" rx="7" fill="#111" opacity="0.05" filter="url(#b5)"/>
<ellipse cx="423" cy="650" rx="8" ry="7" fill="#000" opacity="0.45" filter="url(#b4)"/>
<rect x="252" y="675.6" width="267" height="1.6" fill="#fafafa" opacity="0.8"/>
</g>
<rect x="251.9" y="632.4" width="267.3" height="46.3" fill="none" stroke="#000" stroke-width="1.8"/>
</svg></body></html>
